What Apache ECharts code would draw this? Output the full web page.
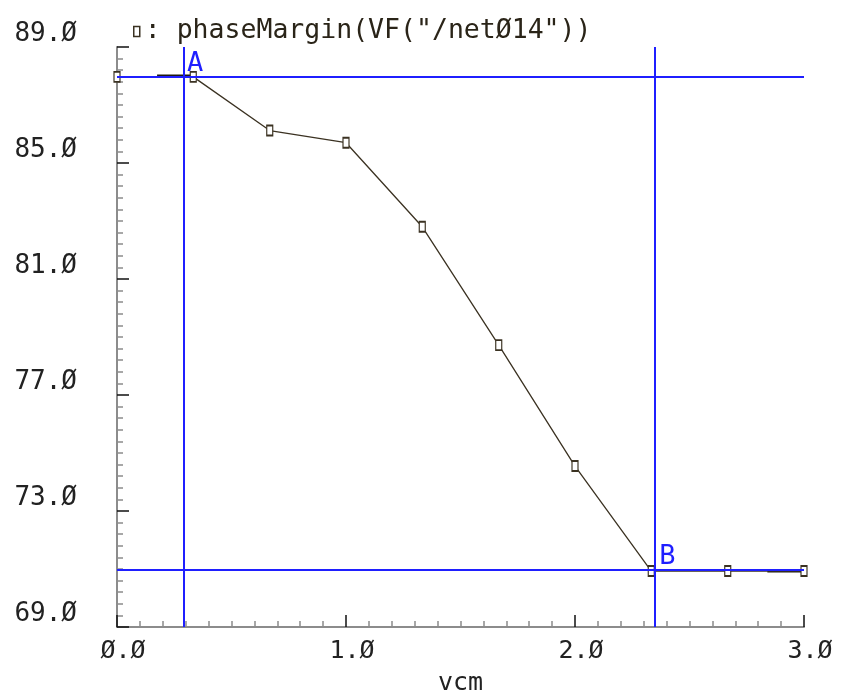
<!DOCTYPE html>
<html>
<head>
    <meta charset="utf-8">
    <title>phaseMargin</title>
    <script src="https://cdn.jsdelivr.net/npm/echarts@6/dist/echarts.min.js"></script>
    <style>
        html, body { margin: 0; padding: 0; background: #fff; }
        #chart { width: 846px; height: 696px; }
    </style>
</head>
<body>
<div id="chart"></div>
<script>
    // data
    var vcm = [0, 0.333, 0.667, 1.0, 1.333, 1.667, 2.0, 2.333, 2.667, 3.0];
    var phaseMargin = [87.97, 87.97, 86.12, 85.7, 82.8, 78.72, 74.55, 70.93, 70.93, 70.93];
    // the short thick pieces drawn at both ends
    var stubLeft = [[0.175, 88.0], [0.333, 88.0]];
    var stubRight = [[2.84, 70.93], [3.0, 70.93]];
    // markers A and B
    var markerA = [0.288, 87.97];
    var markerB = [2.35, 70.97];
    var yTicks = { min: 69, max: 89, step: 4 };
    var xTicks = { min: 0, max: 3, step: 1 };
    var seriesName = 'phaseMargin(VF("/net\u00d814"))';

    var mono = '"DejaVu Sans Mono", monospace';
    var ink = '#3b3222';
    var blue = '#1f1fff';

    function slashZero(v) {
        return v.toFixed(1).replace(/0/g, '\u00d8');
    }

    var points = vcm.map(function (x, i) { return [x, phaseMargin[i]]; });

    var myChart = echarts.init(document.getElementById('chart'));
    var option = {
        animation: false,
        backgroundColor: '#fff',
        grid: { left: 117, right: 42, top: 47, bottom: 69, containLabel: false, outerBoundsMode: 'none' },
        legend: {
            data: [seriesName],
            left: 128,
            top: 13,
            icon: 'rect',
            itemWidth: 6,
            itemHeight: 10,
            itemStyle: { color: '#fff', borderColor: ink, borderWidth: 1.5 },
            formatter: function (name) { return ': ' + name; },
            textStyle: { fontFamily: mono, fontSize: 26.5, color: '#2a2418' }
        },
        xAxis: {
            type: 'value',
            min: xTicks.min,
            max: xTicks.max,
            interval: xTicks.step,
            name: 'vcm',
            nameLocation: 'middle',
            nameGap: 44,
            nameTextStyle: { fontFamily: mono, fontSize: 25, color: '#222' },
            axisLine: { show: true, lineStyle: { color: '#8c8c8c', width: 2 } },
            axisTick: { show: true, inside: true, length: 12, lineStyle: { color: '#111', width: 1.5 } },
            minorTick: { show: true, splitNumber: 10, length: 6, lineStyle: { color: '#8c8c8c', width: 1.5 } },
            splitLine: { show: false },
            axisLabel: {
                fontFamily: mono, fontSize: 25, color: '#222', margin: 12,
                padding: [0, 0, 0, 12],
                formatter: slashZero
            }
        },
        yAxis: {
            type: 'value',
            min: yTicks.min,
            max: yTicks.max,
            interval: yTicks.step,
            axisLine: { show: true, lineStyle: { color: '#8c8c8c', width: 2 } },
            axisTick: { show: true, inside: true, length: 12, lineStyle: { color: '#111', width: 1.5 } },
            minorTick: { show: true, splitNumber: 10, length: 6, lineStyle: { color: '#8c8c8c', width: 1.5 } },
            splitLine: { show: false },
            axisLabel: {
                fontFamily: mono, fontSize: 26, color: '#222', margin: 40,
                verticalAlign: 'bottom',
                formatter: slashZero
            }
        },
        series: [
            {
                name: seriesName,
                type: 'line',
                data: points,
                symbol: 'rect',
                symbolSize: [6, 10],
                itemStyle: { color: '#fff', borderColor: ink, borderWidth: 1.5 },
                lineStyle: { color: ink, width: 1.3 },
                z: 3,
                markLine: {
                    silent: true,
                    symbol: 'none',
                    label: { show: false },
                    lineStyle: { color: blue, width: 2, type: 'solid' },
                    data: [
                        { xAxis: markerA[0] },
                        { yAxis: markerA[1] },
                        { xAxis: markerB[0] },
                        { yAxis: markerB[1] }
                    ]
                },
                markPoint: {
                    silent: true,
                    symbol: 'circle',
                    symbolSize: 0,
                    label: {
                        show: true,
                        position: 'right',
                        distance: 4,
                        offset: [0, -13],
                        fontFamily: mono,
                        fontSize: 27,
                        color: blue
                    },
                    data: [
                        { coord: markerA, label: { formatter: 'A' } },
                        { coord: markerB, label: { formatter: 'B' } }
                    ]
                }
            },
            {
                type: 'line',
                data: stubLeft,
                symbol: 'none',
                silent: true,
                lineStyle: { color: '#1e1a12', width: 3 },
                z: 2
            },
            {
                type: 'line',
                data: stubRight,
                symbol: 'none',
                silent: true,
                lineStyle: { color: '#1e1a12', width: 3 },
                z: 2
            }
        ]
    };
    myChart.setOption(option);
</script>
</body>
</html>
